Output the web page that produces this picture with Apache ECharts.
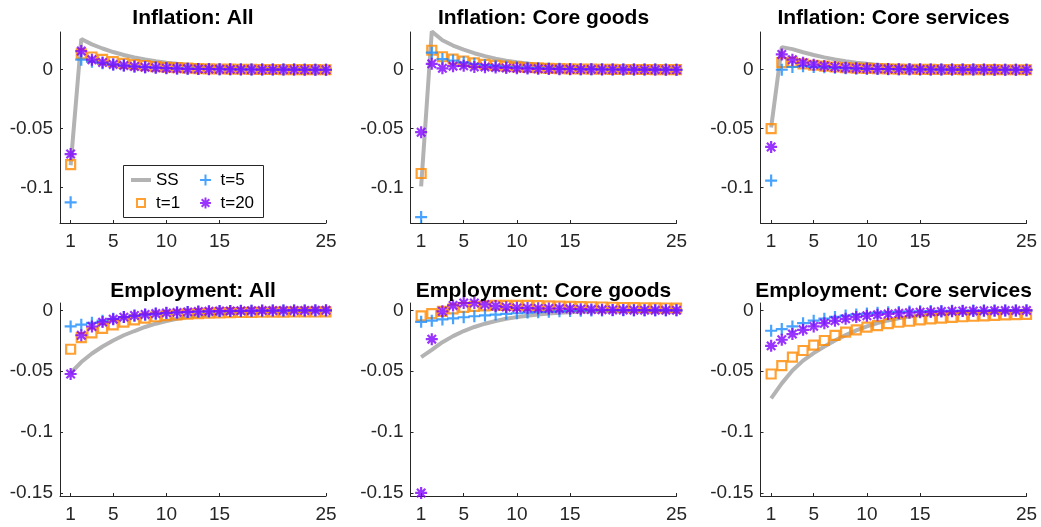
<!DOCTYPE html>
<html>
<head>
<meta charset="utf-8">
<script src="https://cdn.jsdelivr.net/npm/echarts@6/dist/echarts.min.js"></script>
<style>
html,body{margin:0;padding:0;background:#fff;}
#chart{width:1041px;height:527px;}
</style>
</head>
<body>
<div id="chart"></div>
<script>
// ---------- data ----------
const periods = [1,2,3,4,5,6,7,8,9,10,11,12,13,14,15,16,17,18,19,20,21,22,23,24,25];
const xTickValues = [1,5,10,15,25];
const yTicksTop = [-0.1,-0.05,0];
const yTicksBottom = [-0.15,-0.1,-0.05,0];
const panelTitles = ['Inflation: All','Inflation: Core goods','Inflation: Core services',
                     'Employment: All','Employment: Core goods','Employment: Core services'];
const seriesNames = ['SS','t=1','t=5','t=20'];

// Inflation: All
const infAllSS  = [-0.081,0.026,0.0215,0.018,0.015,0.0125,0.0104,0.0087,0.0072,0.006,0.005,0.0041,0.0034,0.0028,0.0023,0.0019,0.0016,0.0013,0.0011,0.0009,0.0007,0.0006,0.0005,0.0004,0.0003];
const infAllT1  = [-0.0805,0.0135,0.0108,0.0087,0.0068,0.0054,0.0043,0.0034,0.0027,0.0021,0.0017,0.0013,0.001,0.0008,0.0006,0.0005,0.0004,0.0003,0.0002,0.0002,0.0001,0.0001,0.0001,0.0001,0];
const infAllT5  = [-0.1125,0.0085,0.0068,0.0055,0.0044,0.0035,0.0028,0.0022,0.0018,0.0014,0.0011,0.0009,0.0007,0.0006,0.0005,0.0004,0.0003,0.0002,0.0002,0.0001,0.0001,0.0001,0.0001,0,0];
const infAllT20 = [-0.0715,0.0158,0.0085,0.0062,0.0045,0.0035,0.0027,0.0021,0.0017,0.0013,0.001,0.0008,0.0006,0.0005,0.0004,0.0003,0.0002,0.0002,0.0001,0.0001,0.0001,0.0001,0,0,0];

// Inflation: Core goods
const infGoodsSS  = [-0.099,0.0325,0.025,0.0205,0.017,0.014,0.0115,0.0094,0.0077,0.0063,0.0052,0.0043,0.0035,0.0029,0.0024,0.0019,0.0016,0.0013,0.0011,0.0009,0.0007,0.0006,0.0005,0.0004,0.0003];
const infGoodsT1  = [-0.088,0.0165,0.011,0.009,0.0073,0.0058,0.0046,0.0037,0.003,0.0024,0.0019,0.0015,0.0012,0.001,0.0008,0.0006,0.0005,0.0004,0.0003,0.0002,0.0002,0.0002,0.0001,0.0001,0.0001];
const infGoodsT5  = [-0.125,0.0145,0.009,0.0078,0.0063,0.005,0.004,0.0032,0.0025,0.002,0.0016,0.0013,0.001,0.0008,0.0006,0.0005,0.0004,0.0003,0.0002,0.0002,0.0001,0.0001,0.0001,0.0001,0];
const infGoodsT20 = [-0.053,0.005,0.0012,0.003,0.0033,0.0024,0.0022,0.0018,0.0015,0.0012,0.001,0.0008,0.0007,0.0005,0.0004,0.0003,0.0003,0.0002,0.0002,0.0001,0.0001,0.0001,0.0001,0,0];

// Inflation: Core services
const infServSS  = [-0.049,0.0192,0.0175,0.0148,0.0125,0.0105,0.0088,0.0073,0.006,0.005,0.0041,0.0034,0.0028,0.0023,0.0019,0.0015,0.0012,0.001,0.0008,0.0007,0.0005,0.0004,0.0003,0.0003,0.0002];
const infServT1  = [-0.05,0.006,0.0065,0.005,0.0038,0.003,0.0023,0.0018,0.0014,0.0011,0.0009,0.0007,0.0005,0.0004,0.0003,0.0003,0.0002,0.0002,0.0001,0.0001,0.0001,0.0001,0,0,0];
const infServT5  = [-0.094,0,0.0023,0.003,0.0024,0.002,0.0016,0.0013,0.001,0.0008,0.0006,0.0005,0.0004,0.0003,0.0002,0.0002,0.0001,0.0001,0.0001,0.0001,0,0,0,0,0];
const infServT20 = [-0.0655,0.013,0.0085,0.006,0.0043,0.0031,0.0023,0.0017,0.0013,0.001,0.0008,0.0006,0.0005,0.0004,0.0003,0.0002,0.0002,0.0001,0.0001,0.0001,0.0001,0,0,0,0];

// Employment: All
const empAllSS  = [-0.0515,-0.0425,-0.0355,-0.0297,-0.0248,-0.0205,-0.017,-0.0137,-0.011,-0.0088,-0.007,-0.0056,-0.0045,-0.0036,-0.0029,-0.0023,-0.0018,-0.0015,-0.0012,-0.001,-0.0008,-0.0006,-0.0005,-0.0004,-0.0003];
const empAllT1  = [-0.032,-0.0225,-0.0185,-0.0148,-0.012,-0.0097,-0.0079,-0.0064,-0.0053,-0.0044,-0.0037,-0.0031,-0.0027,-0.0024,-0.0021,-0.0019,-0.0018,-0.0017,-0.0016,-0.0015,-0.0015,-0.0014,-0.0014,-0.0014,-0.0013];
const empAllT5  = [-0.0132,-0.0118,-0.0103,-0.0085,-0.007,-0.0056,-0.0045,-0.0036,-0.0029,-0.0023,-0.0018,-0.0014,-0.0011,-0.0009,-0.0007,-0.0006,-0.0005,-0.0004,-0.0003,-0.0002,-0.0002,-0.0001,-0.0001,-0.0001,-0.0001];
const empAllT20 = [-0.0523,-0.0205,-0.0133,-0.0097,-0.0073,-0.0056,-0.0043,-0.0034,-0.0027,-0.0021,-0.0017,-0.0013,-0.001,-0.0008,-0.0006,-0.0005,-0.0004,-0.0003,-0.0002,-0.0002,-0.0001,-0.0001,-0.0001,0,0];

// Employment: Core goods
const empGoodsSS  = [-0.0385,-0.0325,-0.0262,-0.0212,-0.017,-0.0137,-0.011,-0.0088,-0.007,-0.0056,-0.0044,-0.0035,-0.0027,-0.0021,-0.0016,-0.0012,-0.0009,-0.0007,-0.0005,-0.0004,-0.0003,-0.0002,-0.0002,-0.0001,-0.0001];
const empGoodsT1  = [-0.0045,-0.0027,-0.0008,0.0011,0.0024,0.0032,0.0037,0.004,0.0041,0.0041,0.004,0.0039,0.0037,0.0035,0.0033,0.0031,0.0029,0.0027,0.0025,0.0023,0.0022,0.0021,0.002,0.0019,0.0018];
const empGoodsT5  = [-0.0095,-0.0085,-0.0075,-0.0066,-0.0057,-0.0049,-0.0042,-0.0035,-0.0029,-0.0024,-0.0019,-0.0015,-0.0011,-0.0008,-0.0005,-0.0003,-0.0002,-0.0001,0,0,0,0,0,0,0];
const empGoodsT20 = [-0.15,-0.0237,-0.0008,0.004,0.006,0.006,0.0048,0.0035,0.0026,0.002,0.0018,0.0016,0.0015,0.0015,0.0012,0.0009,0.0006,0.0004,0.0003,0.0002,0.0001,0.0001,0,0,0];

// Employment: Core services
const empServSS  = [-0.0723,-0.06,-0.0495,-0.0413,-0.0352,-0.0297,-0.0248,-0.0204,-0.0165,-0.0132,-0.0105,-0.0083,-0.0066,-0.0052,-0.0041,-0.0034,-0.0028,-0.0023,-0.0019,-0.0016,-0.0013,-0.0011,-0.0009,-0.0007,-0.0006];
const empServT1  = [-0.0523,-0.0454,-0.0385,-0.033,-0.0286,-0.0248,-0.0206,-0.018,-0.016,-0.0138,-0.0125,-0.011,-0.0098,-0.009,-0.0079,-0.0071,-0.0064,-0.0058,-0.0053,-0.0049,-0.0045,-0.0041,-0.0038,-0.0035,-0.0033];
const empServT5  = [-0.0168,-0.0154,-0.0132,-0.0106,-0.0085,-0.0069,-0.0054,-0.0043,-0.0034,-0.0027,-0.0021,-0.0016,-0.0013,-0.001,-0.0008,-0.0006,-0.0005,-0.0004,-0.0003,-0.0002,-0.0002,-0.0001,-0.0001,-0.0001,0];
const empServT20 = [-0.0292,-0.0242,-0.0195,-0.016,-0.0132,-0.0106,-0.0086,-0.007,-0.0056,-0.0045,-0.0037,-0.003,-0.0025,-0.002,-0.0016,-0.0013,-0.001,-0.0008,-0.0006,-0.0005,-0.0004,-0.0003,-0.0002,-0.0002,-0.0001];

const panelData = [
  [infAllSS, infAllT1, infAllT5, infAllT20],
  [infGoodsSS, infGoodsT1, infGoodsT5, infGoodsT20],
  [infServSS, infServT1, infServT5, infServT20],
  [empAllSS, empAllT1, empAllT5, empAllT20],
  [empGoodsSS, empGoodsT1, empGoodsT5, empGoodsT20],
  [empServSS, empServT1, empServT5, empServT20]
];

// ---------- style / layout ----------
const FONT = 'Liberation Sans';
const AXIS = '#262626';
const C_SS = '#b3b3b3', C_T1 = '#ff8800', C_T5 = '#1a8cff', C_T20 = '#8000ff';
const plusPath = 'path://M0,-1L0,1M-1,0L1,0';
const starPath = 'path://M0,-1L0,1M-1,0L1,0M-0.7,-0.7L0.7,0.7M-0.7,0.7L0.7,-0.7';
const ssLegend = 'path://M0,0L20,0L20,4L0,4Z';
const sqLegend = 'path://M-1.5,-1.5M1.5,1.5M-1,-1L1,-1L1,1L-1,1Z';
const plusLegend = 'path://M-1.1,-1.1M1.1,1.1M0,-1L0,1M-1,0L1,0';
const starLegend = 'path://M-1.1,-1.1M1.1,1.1M0,-1L0,1M-1,0L1,0M-0.7,-0.7L0.7,0.7M-0.7,0.7L0.7,-0.7';

const colLeft = [60, 410.5, 760.5];
const panelW = 266;
const rowTop = [32, 303];
const rowH = [191, 193];
const rowY = [[-0.13, 0.032], [-0.1525, 0.006]];
const rowTicks = [yTicksTop, yTicksBottom];
const titleTop = [8, 281];

const grids = [], xAxes = [], yAxes = [], titles = [], series = [];
const pts = arr => periods.map((p, i) => [p, arr[i]]);

for (let p = 0; p < 6; p++) {
  const r = Math.floor(p / 3), c = p % 3;
  grids.push({left: colLeft[c], top: rowTop[r], width: panelW, height: rowH[r], containLabel: false});
  titles.push({
    text: panelTitles[p], left: colLeft[c] + panelW / 2, top: titleTop[r], textAlign: 'center', padding: 0,
    textStyle: {fontFamily: FONT, fontSize: 21, fontWeight: 'bold', color: '#000'}
  });
  xAxes.push({
    gridIndex: p, type: 'value', min: 0, max: 25,
    axisLine: {show: true, onZero: false, lineStyle: {color: AXIS, width: 1}},
    axisTick: {show: true, inside: true, length: 3, customValues: xTickValues, lineStyle: {color: AXIS}},
    axisLabel: {customValues: xTickValues, fontFamily: FONT, fontSize: 19, color: AXIS, margin: 9},
    splitLine: {show: false}
  });
  yAxes.push({
    gridIndex: p, type: 'value', min: rowY[r][0], max: rowY[r][1],
    axisLine: {show: true, onZero: false, lineStyle: {color: AXIS, width: 1}},
    axisTick: {show: true, inside: true, length: 3, customValues: rowTicks[r], lineStyle: {color: AXIS}},
    axisLabel: {customValues: rowTicks[r], fontFamily: FONT, fontSize: 19, color: AXIS, margin: 7},
    splitLine: {show: false}
  });
  const d = panelData[p];
  series.push({
    type: 'line', name: seriesNames[0], xAxisIndex: p, yAxisIndex: p, data: pts(d[0]),
    symbol: 'none', showSymbol: false, lineStyle: {color: C_SS, width: 4}, itemStyle: {color: C_SS}, z: 1
  });
  series.push({
    type: 'scatter', name: seriesNames[1], xAxisIndex: p, yAxisIndex: p, data: pts(d[1]),
    symbol: 'rect', symbolSize: 9, itemStyle: {color: 'none', borderColor: C_T1, borderWidth: 2.2}, z: 2
  });
  series.push({
    type: 'scatter', name: seriesNames[2], xAxisIndex: p, yAxisIndex: p, data: pts(d[2]),
    symbol: plusPath, symbolSize: 12, itemStyle: {color: 'none', borderColor: C_T5, borderWidth: 2.2}, z: 3
  });
  series.push({
    type: 'scatter', name: seriesNames[3], xAxisIndex: p, yAxisIndex: p, data: pts(d[3]),
    symbol: starPath, symbolSize: 12, itemStyle: {color: 'none', borderColor: C_T20, borderWidth: 2.2}, z: 4
  });
}

const legendText = {fontFamily: FONT, fontSize: 17, color: '#000', lineHeight: 18};
const legendBase = {
  orient: 'vertical', top: 165, itemGap: 5, itemWidth: 20, itemHeight: 12,
  selectedMode: false, symbolKeepAspect: true, textStyle: legendText, z: 10
};

const option = {
  animation: false,
  backgroundColor: '#fff',
  title: titles,
  grid: grids,
  xAxis: xAxes,
  yAxis: yAxes,
  legend: [
    Object.assign({}, legendBase, {
      left: 123, padding: [6, 0, 5, 8],
      data: [{name: 'SS', icon: ssLegend, itemStyle: {color: C_SS, borderWidth: 0}},
             {name: 't=1', icon: sqLegend, itemStyle: {color: 'none', borderColor: C_T1, borderWidth: 2}}]
    }),
    Object.assign({}, legendBase, {
      left: 197, padding: [6, 0, 5, 0],
      data: [{name: 't=5', icon: plusLegend, itemStyle: {color: 'none', borderColor: C_T5, borderWidth: 2}},
             {name: 't=20', icon: starLegend, itemStyle: {color: 'none', borderColor: C_T20, borderWidth: 2}}]
    })
  ],
  graphic: [{
    type: 'rect', z: 5, silent: true,
    shape: {x: 123.5, y: 165.5, width: 140, height: 52},
    style: {fill: '#fff', stroke: AXIS, lineWidth: 1}
  }],
  series: series
};

const chart = echarts.init(document.getElementById('chart'), null, {renderer: 'canvas'});
chart.setOption(option);
</script>
</body>
</html>
